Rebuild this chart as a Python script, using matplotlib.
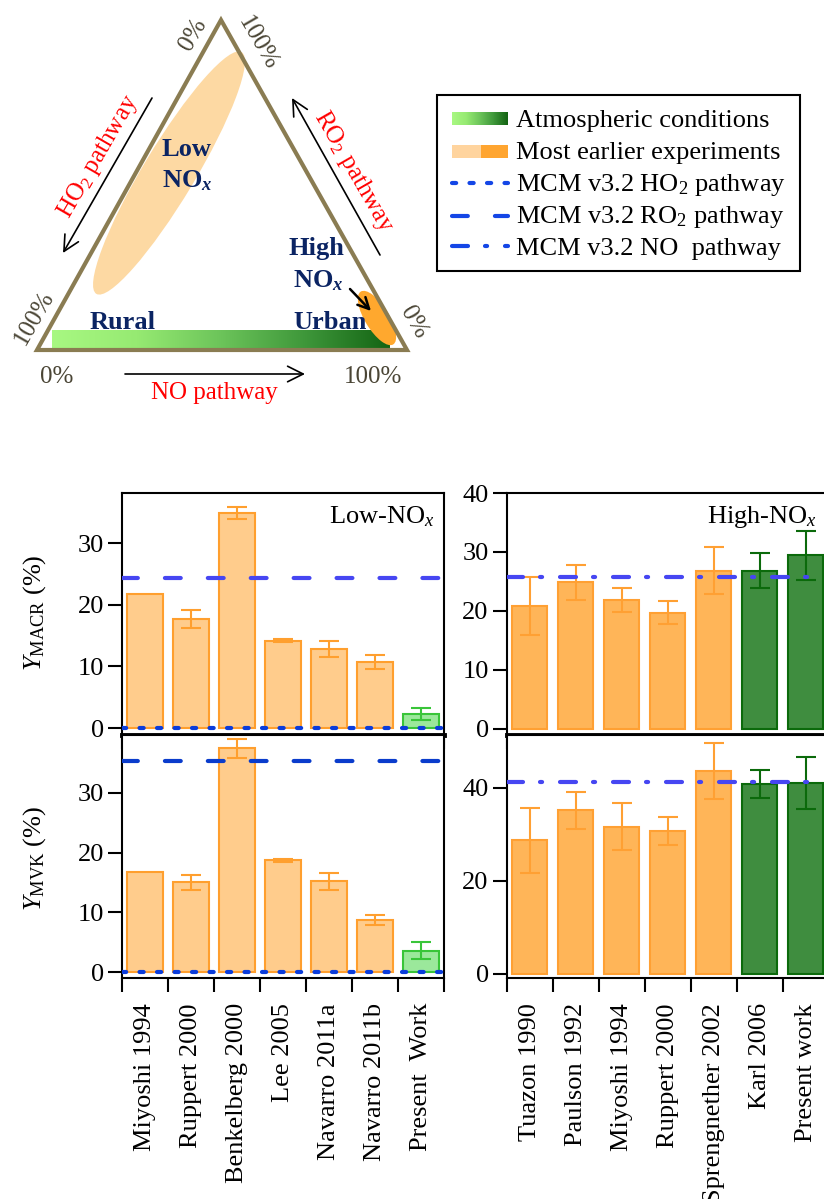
import numpy as np
import matplotlib
matplotlib.use("Agg")
import matplotlib.pyplot as plt
from matplotlib.patches import Ellipse, Polygon, Rectangle
from matplotlib.colors import LinearSegmentedColormap

plt.rcParams['font.family'] = ['Liberation Serif', 'DejaVu Serif']
plt.rcParams['font.size'] = 19
plt.rcParams['mathtext.fontset'] = 'custom'
plt.rcParams['mathtext.rm'] = 'Liberation Serif'
plt.rcParams['mathtext.it'] = 'Liberation Serif:italic'
plt.rcParams['mathtext.bf'] = 'Liberation Serif:bold'
plt.rcParams['mathtext.bfit'] = 'Liberation Serif:italic:bold'

# data
low_labels = ["Miyoshi 1994", "Ruppert 2000", "Benkelberg 2000", "Lee 2005",
              "Navarro 2011a", "Navarro 2011b", "Present  Work"]
high_labels = ["Tuazon 1990", "Paulson 1992", "Miyoshi 1994", "Ruppert 2000",
               "Sprengnether 2002", "Karl 2006", "Present work"]

macr_low = [21.8, 17.7, 34.9, 14.2, 12.8, 10.7, 2.3]
macr_low_err = [np.nan, 1.4, 1.0, 0.3, 1.25, 1.1, 0.95]
mvk_low = [16.7, 15.0, 37.5, 18.7, 15.2, 8.7, 3.6]
mvk_low_err = [np.nan, 1.2, 1.6, 0.3, 1.4, 0.9, 1.35]

macr_high = [20.8, 24.8, 21.8, 19.7, 26.8, 26.8, 29.4]
macr_high_err = [5.0, 3.0, 2.0, 2.0, 4.0, 3.0, 4.2]
mvk_high = [28.7, 35.1, 31.6, 30.7, 43.6, 40.7, 41.0]
mvk_high_err = [7.0, 4.0, 5.0, 3.0, 6.0, 3.0, 5.5]

# MCM v3.2 reference yields
mcm_ho2 = [0.0, 0.0]          # MACR, MVK
mcm_ro2 = [24.3, 35.3]
mcm_no = [25.7, 41.3]

W, H = 824, 1199
fig = plt.figure(figsize=(W / 100, H / 100), dpi=100)


def px_axes(x0, y0, x1, y1):
    return fig.add_axes([x0 / W, 1 - y1 / H, (x1 - x0) / W, (y1 - y0) / H])


DOT = dict(ls=(0, (1.0, 3.2)), dash_capstyle='round', lw=3, color='#0A3CDC')
DASH = dict(ls=(0, (3.8, 6.5)), dash_capstyle='round', lw=3)
DASHDOT = dict(ls=(0, (3.84, 4.08, 0.5, 4.3)), dash_capstyle='round', lw=3)

# ---------------- diagram ----------------
d = fig.add_axes([0, 1 - 420 / H, 1, 420 / H])
d.axis('off')

greens = LinearSegmentedColormap.from_list(
    'g', ['#A8F882', '#96EA72', '#6CC45A', '#3E973A', '#146414'])

d.add_patch(Ellipse((169, 173), 282, 52, angle=-59, fc='#FDD9A3', ec='none', zorder=1))
d.imshow(np.linspace(0, 1, 256)[None, :], cmap=greens, extent=(52, 390, 348, 330),
         aspect='auto', zorder=2)
d.add_patch(Ellipse((377, 318), 62, 24, angle=58.5, fc='#FFA82E', ec='none', zorder=3))
d.add_patch(Polygon([(221, 20), (37, 350), (407, 350)], closed=True, fill=False,
                    ec='#8A7C52', lw=3, joinstyle='miter', zorder=5))

navy = '#0B2463'
d.text(162, 156, "Low", color=navy, fontweight='bold', fontsize=19, zorder=6)
d.text(162, 187, r"NO$_\mathbfit{x}$", color=navy, fontweight='bold', fontsize=19, zorder=6)
d.text(289, 255, "High", color=navy, fontweight='bold', fontsize=19, zorder=6)
d.text(293, 287, r"NO$_\mathbfit{x}$", color=navy, fontweight='bold', fontsize=19, zorder=6)
d.text(90, 329, "Rural", color=navy, fontweight='bold', fontsize=19, zorder=6)
d.text(293, 329, "Urban", color=navy, fontweight='bold', fontsize=19, zorder=6)

grey = '#4A4535'
for s, x, y, r in [("0%", 193, 35, 60), ("100%", 258, 43, -60), ("100%", 34, 318, 60),
                   ("0%", 414, 322, -60), ("0%", 57, 377, 0), ("100%", 373, 377, 0)]:
    d.text(x, y, s, color=grey, fontsize=18, rotation=r, ha='center', va='center',
           rotation_mode='anchor')

d.text(98, 157, r"HO$_2$ pathway", color='red', fontsize=18, rotation=60,
       ha='center', va='center', rotation_mode='anchor')
d.text(354, 172, r"RO$_2$ pathway", color='red', fontsize=18, rotation=-60,
       ha='center', va='center', rotation_mode='anchor')
d.text(214, 393, "NO pathway", color='red', fontsize=18, ha='center', va='center')

arr = dict(arrowstyle='->', lw=1.2, color='black', mutation_scale=28, shrinkA=0, shrinkB=0)
d.annotate('', xy=(63, 253), xytext=(152, 98), arrowprops=arr)
d.annotate('', xy=(292, 98), xytext=(380, 255), arrowprops=arr)
d.annotate('', xy=(305, 374), xytext=(125, 374), arrowprops=arr)
d.annotate('', xy=(371, 311), xytext=(350, 289),
           arrowprops=dict(arrowstyle='->', lw=1.8, color='black', mutation_scale=20,
                           shrinkA=0, shrinkB=0), zorder=7)

# legend drawn by hand
d.add_patch(Rectangle((437, 95), 363, 176, fill=False, ec='black', lw=1.5))
d.imshow(np.linspace(0, 1, 64)[None, :], cmap=greens, extent=(452, 508, 125, 112),
         aspect='auto', zorder=2)
d.add_patch(Rectangle((452, 145), 29, 13, fc='#FFD49E', ec='none'))
d.add_patch(Rectangle((481, 145), 27, 13, fc='#FFA530', ec='none'))
leg_blue = '#1446E6'
d.plot([452, 508], [183, 183], **{**DOT, 'color': leg_blue})
d.plot([452, 508], [216, 216], color=leg_blue, **DASH)
d.plot([452, 508], [246, 246], color=leg_blue, **DASHDOT)
for y, s in [(127, "Atmospheric conditions"), (159, "Most earlier experiments"),
             (191, r"MCM v3.2 HO$_2$ pathway"), (223, r"MCM v3.2 RO$_2$ pathway"),
             (255, "MCM v3.2 NO  pathway")]:
    d.text(516, y, s, fontsize=19, va='baseline')

d.set_xlim(0, W)
d.set_ylim(420, 0)

# ---------------- bar panels ----------------
ax_tl = px_axes(122, 493, 444, 735)
ax_bl = px_axes(122, 735, 444, 978)
ax_tr = px_axes(506.7, 493, 828.7, 735)
ax_br = px_axes(506.7, 735, 828.7, 978)

low_fill = ['#FFCC8C'] * 6 + ['#9BE89B']
low_edge = ['#FF9F2E'] * 6 + ['#39C539']
high_fill = ['#FFB558'] * 5 + ['#3F8D3F'] * 2
high_edge = ['#FFA033'] * 5 + ['#0B6A0B'] * 2


def bars(ax, vals, errs, fills, edges):
    x = np.arange(len(vals))
    ax.bar(x, vals, width=0.77, color=fills, edgecolor=edges, linewidth=1.5, zorder=2)
    for xi, v, e, c in zip(x, vals, errs, edges):
        if not np.isnan(e):
            ax.errorbar(xi, v, yerr=e, fmt='none', ecolor=c, elinewidth=1.5,
                        capsize=7, capthick=1.5, zorder=3)


def style(ax, ylim, yticks, labels=None):
    ax.set_xlim(-0.5, 6.5)
    ax.set_ylim(*ylim)
    ax.set_yticks(yticks)
    ax.set_xticks(np.arange(-0.5, 7, 1))
    ax.set_xticklabels([])
    ax.tick_params(axis='both', which='major', direction='out', length=10, width=1.5, pad=3)
    if labels:
        ax.set_xticks(np.arange(7), minor=True)
        ax.set_xticklabels(labels, minor=True, rotation=90, va='top')
        ax.tick_params(axis='x', which='minor', length=0, pad=18)
    for s in ax.spines.values():
        s.set_linewidth(1.5)


bars(ax_tl, macr_low, macr_low_err, low_fill, low_edge)
bars(ax_bl, mvk_low, mvk_low_err, low_fill, low_edge)
bars(ax_tr, macr_high, macr_high_err, high_fill, high_edge)
bars(ax_br, mvk_high, mvk_high_err, high_fill, high_edge)

ax_tl.axhline(mcm_ro2[0], color='#4646F2', zorder=4, **DASH)
ax_tl.axhline(mcm_ho2[0], zorder=4, **DOT)
ax_bl.axhline(mcm_ro2[1], color='#0A3CCC', zorder=4, **DASH)
ax_bl.axhline(mcm_ho2[1], zorder=4, **DOT)
ax_tr.axhline(mcm_no[0], color='#4646F2', zorder=4, **DASHDOT)
ax_br.axhline(mcm_no[1], color='#4646F2', zorder=4, **DASHDOT)

style(ax_tl, (-1.1, 38.1), [0, 10, 20, 30])
style(ax_bl, (-1.0, 39.7), [0, 10, 20, 30], low_labels)
style(ax_tr, (-1.1, 40.0), [0, 10, 20, 30, 40])
style(ax_br, (-0.86, 51.3), [0, 20, 40], high_labels)
ax_tl.spines['bottom'].set_linewidth(3.5)
ax_tr.spines['bottom'].set_linewidth(3.5)

ax_tl.text(0.972, 0.876, r"Low-NO$_x$", transform=ax_tl.transAxes, ha='right', va='baseline')
ax_tr.text(0.964, 0.876, r"High-NO$_x$", transform=ax_tr.transAxes, ha='right', va='baseline')

fig.text(35 / W, 1 - 613 / H, r"$Y_{\mathrm{MACR}}$ (%)", rotation=90, ha='center', va='center')
fig.text(35 / W, 1 - 858 / H, r"$Y_{\mathrm{MVK}}$ (%)", rotation=90, ha='center', va='center')

fig.savefig("out.png", dpi=100)
